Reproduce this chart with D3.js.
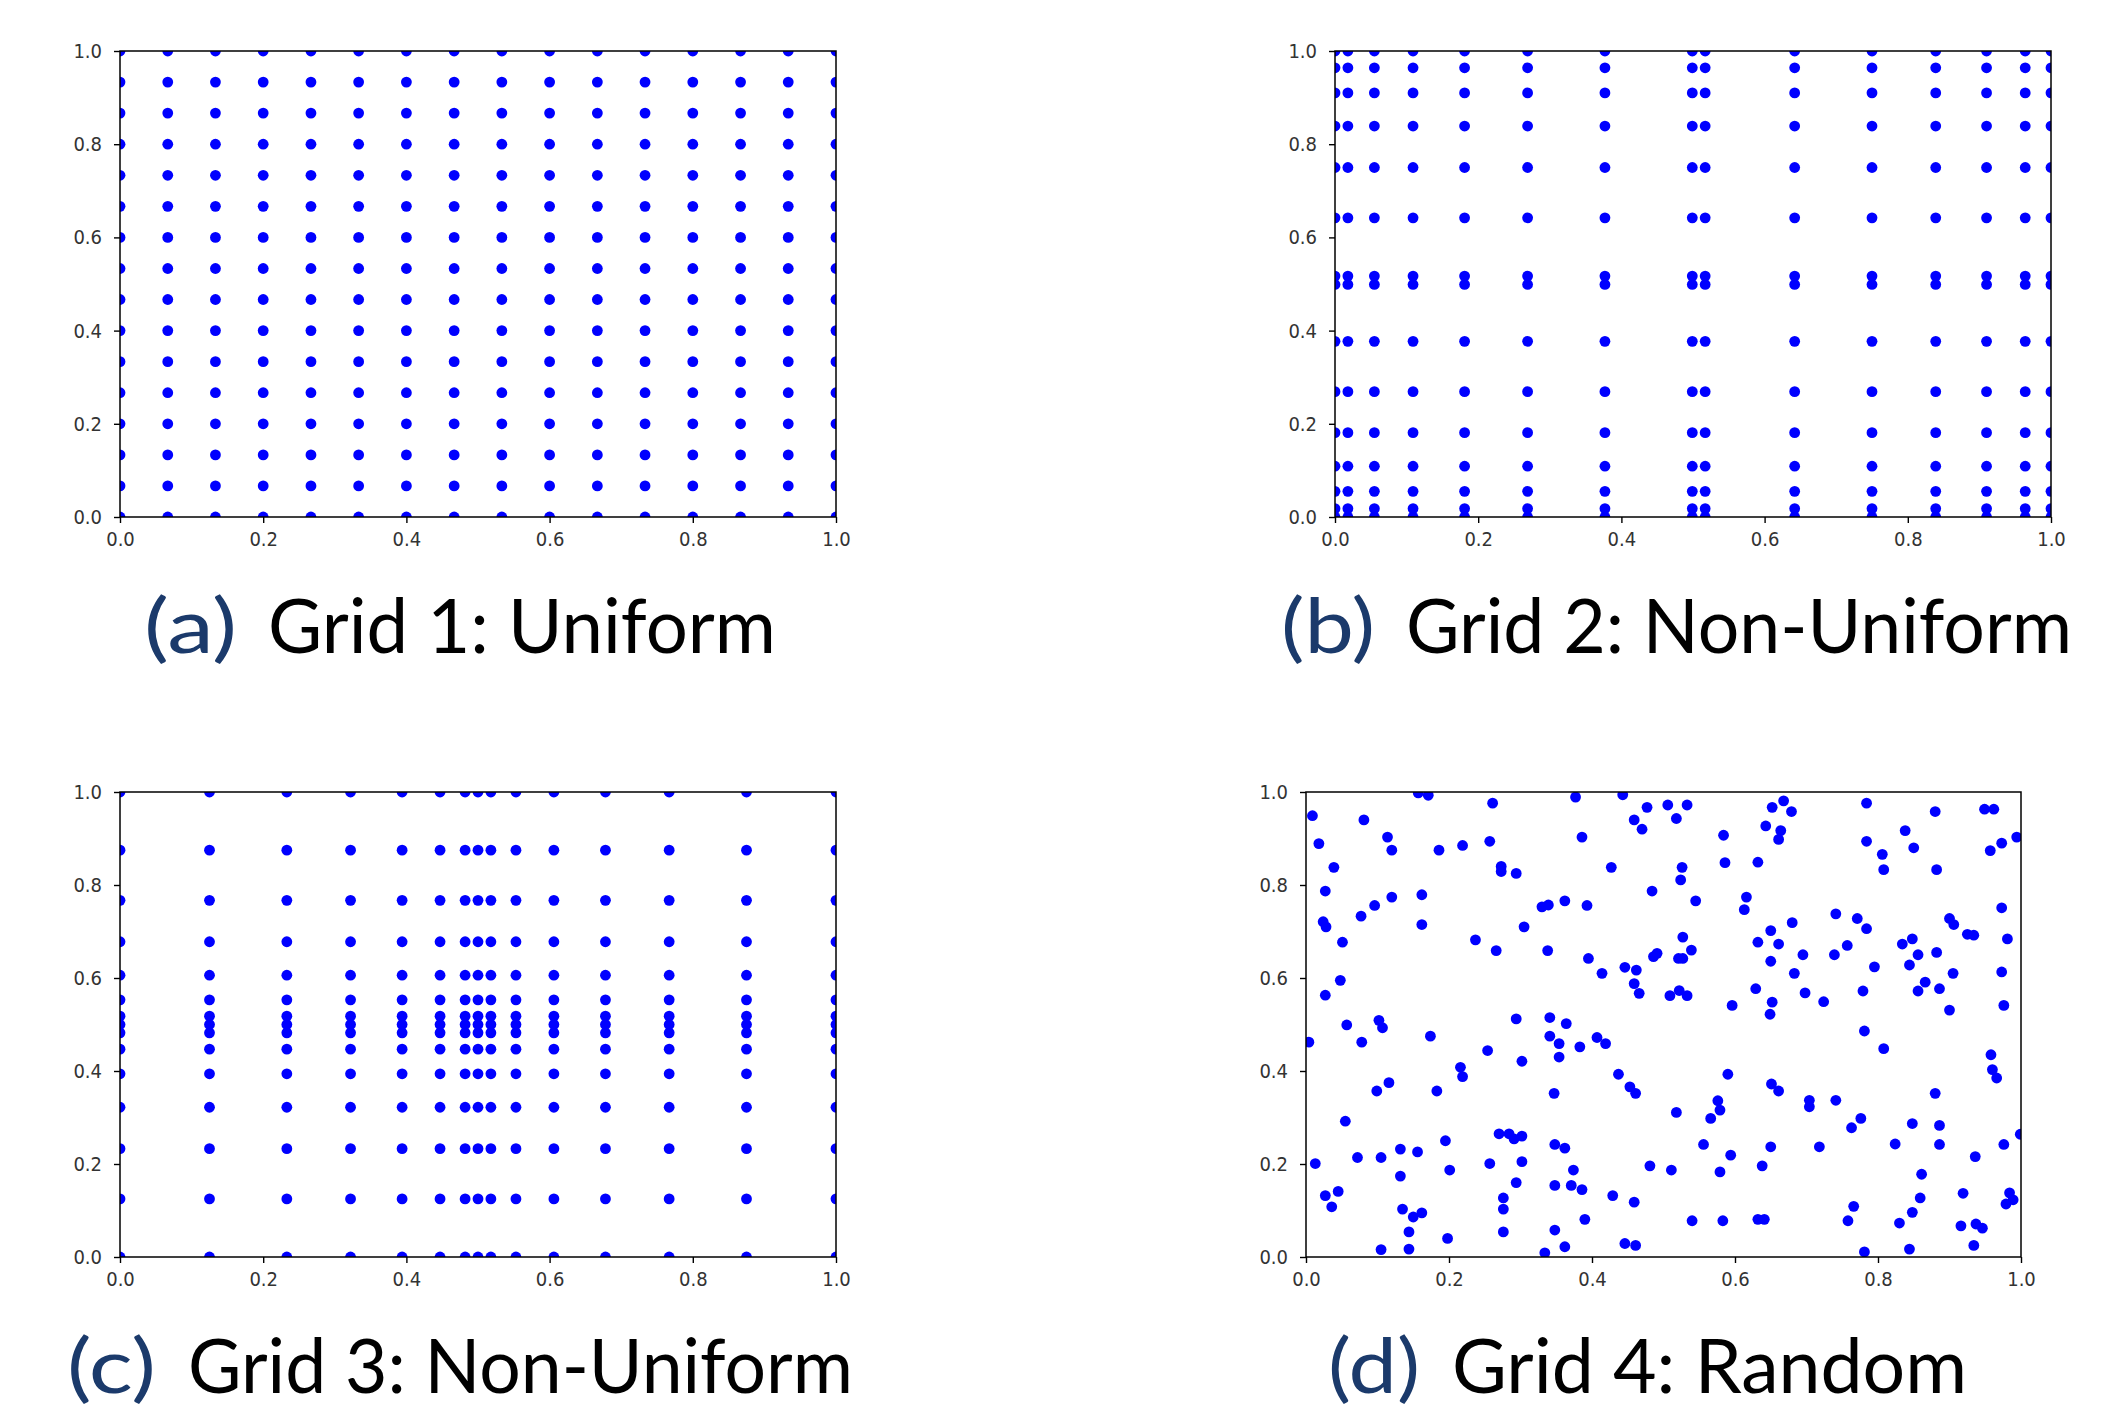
<!DOCTYPE html>
<html>
<head>
<meta charset="utf-8">
<script src="https://cdn.jsdelivr.net/npm/d3@7"></script>
<style>
  html, body { margin: 0; padding: 0; background: #fff; }
  svg { display: block; }
  .tick text { font-family: "DejaVu Sans Condensed", "DejaVu Sans", sans-serif; font-stretch: condensed; font-size: 20px; fill: #333; }
  .tick line { stroke: #000; stroke-width: 1.4px; }
  .caption { font-family: "Lato", "Open Sans", sans-serif; font-weight: 400; font-size: 76px; }
</style>
</head>
<body>
<script>
// Grid 1: evenly spaced nodes (16 per axis)
const grid1Nodes = [0, 0.0667, 0.1333, 0.2, 0.2667, 0.3333, 0.4, 0.4667,
                    0.5333, 0.6, 0.6667, 0.7333, 0.8, 0.8667, 0.9333, 1];

// Grid 2: nodes clustered toward 0, 0.5 and 1 (same nodes on both axes)
const grid2Nodes = [0, 0.018, 0.055, 0.109, 0.181, 0.269, 0.377, 0.499,
                    0.517, 0.642, 0.750, 0.839, 0.910, 0.964, 1];

// Grid 3: nodes clustered toward the centre (same nodes on both axes)
const grid3Nodes = [0, 0.125, 0.233, 0.322, 0.394, 0.447, 0.482, 0.5,
                    0.518, 0.553, 0.606, 0.678, 0.767, 0.875, 1];

// Grid 4: scattered sample points [x, y]
const grid4Points = [
  [0.009,0.949],[0.018,0.889],[0.039,0.838],[0.027,0.787],[0.024,0.721],[0.028,0.710],
  [0.051,0.677],[0.048,0.595],[0.027,0.563],[0.057,0.499],[0.004,0.462],[0.078,0.462],
  [0.081,0.940],[0.077,0.733],[0.096,0.756],[0.114,0.903],[0.120,0.875],[0.120,0.774],
  [0.162,0.779],[0.162,0.715],[0.157,0.998],[0.171,0.993],
  [0.261,0.976],[0.257,0.894],[0.219,0.885],[0.186,0.875],[0.273,0.840],[0.273,0.829],
  [0.294,0.825],[0.305,0.710],[0.266,0.659],[0.237,0.682],[0.330,0.753],[0.339,0.757],
  [0.362,0.766],[0.393,0.756],[0.386,0.903],[0.377,0.989],[0.427,0.838],[0.443,0.994],
  [0.459,0.940],[0.470,0.920],[0.477,0.967],[0.506,0.972],[0.518,0.943],[0.533,0.972],
  [0.526,0.838],[0.524,0.811],[0.484,0.787],[0.545,0.766],[0.584,0.907],[0.586,0.848],
  [0.632,0.849],[0.616,0.774],[0.613,0.747],
  [0.338,0.659],[0.395,0.642],[0.414,0.610],[0.446,0.623],[0.462,0.617],[0.459,0.588],
  [0.466,0.567],[0.486,0.646],[0.491,0.653],[0.509,0.562],[0.522,0.573],[0.533,0.562],
  [0.521,0.642],[0.527,0.642],[0.527,0.688],[0.539,0.660],[0.596,0.541],[0.629,0.577],
  [0.652,0.548],[0.649,0.522],[0.698,0.568],[0.683,0.610],[0.695,0.650],[0.650,0.636],
  [0.661,0.673],[0.632,0.677],[0.650,0.702],[0.680,0.719],[0.724,0.549],[0.739,0.650],
  [0.757,0.670],[0.741,0.738],[0.771,0.728],[0.784,0.706],[0.779,0.572],[0.795,0.624],
  [0.834,0.673],[0.848,0.684],[0.856,0.650],[0.844,0.628],[0.866,0.591],[0.856,0.572],
  [0.882,0.655],[0.886,0.577],[0.905,0.610],[0.900,0.531],[0.900,0.728],[0.906,0.715],
  [0.925,0.694],[0.934,0.692],[0.981,0.684],[0.973,0.751],[0.973,0.613],[0.976,0.541],
  [0.958,0.435],[0.960,0.403],[0.966,0.385],[0.781,0.486],[0.808,0.448],
  [0.668,0.981],[0.652,0.967],[0.679,0.958],[0.643,0.927],[0.664,0.917],[0.661,0.898],
  [0.784,0.976],[0.784,0.894],[0.806,0.866],[0.808,0.833],[0.838,0.917],[0.850,0.880],
  [0.880,0.958],[0.882,0.833],[0.949,0.963],[0.962,0.963],[0.957,0.874],[0.973,0.890],
  [0.994,0.903],
  [0.102,0.509],[0.107,0.493],[0.174,0.475],[0.099,0.357],[0.116,0.375],[0.183,0.357],
  [0.216,0.408],[0.219,0.388],[0.254,0.444],[0.302,0.421],[0.294,0.512],[0.341,0.515],
  [0.341,0.475],[0.354,0.459],[0.364,0.502],[0.354,0.430],[0.347,0.352],[0.383,0.452],
  [0.407,0.472],[0.419,0.459],[0.437,0.393],[0.453,0.366],[0.461,0.352],[0.055,0.292],
  [0.013,0.201],
  [0.590,0.393],[0.651,0.372],[0.661,0.357],[0.576,0.336],[0.579,0.316],[0.566,0.298],
  [0.704,0.337],[0.704,0.323],[0.741,0.337],[0.776,0.298],[0.763,0.278],[0.718,0.237],
  [0.650,0.237],[0.594,0.219],[0.556,0.242],[0.638,0.196],[0.579,0.183],[0.511,0.187],
  [0.481,0.196],[0.518,0.311],[0.880,0.352],[0.886,0.283],[0.848,0.287],[0.824,0.243],
  [0.886,0.242],[0.976,0.242],[0.999,0.264],[0.936,0.216],[0.861,0.178],[0.859,0.127],
  [0.848,0.096],[0.830,0.073],[0.844,0.017],[0.919,0.137],[0.916,0.067],[0.937,0.071],
  [0.946,0.062],[0.934,0.025],[0.979,0.114],[0.984,0.138],[0.989,0.123],[0.781,0.011],
  [0.766,0.109],[0.758,0.078],[0.632,0.081],[0.641,0.081],[0.583,0.078],[0.540,0.078],
  [0.459,0.118],[0.446,0.029],[0.461,0.025],[0.429,0.132],[0.390,0.081],[0.386,0.145],
  [0.374,0.187],[0.371,0.154],[0.348,0.154],[0.348,0.058],[0.362,0.022],[0.334,0.009],
  [0.348,0.242],[0.362,0.234],[0.302,0.260],[0.302,0.205],[0.294,0.160],[0.291,0.254],
  [0.270,0.265],[0.284,0.265],[0.276,0.127],[0.276,0.103],[0.276,0.054],[0.257,0.201],
  [0.201,0.187],[0.195,0.250],[0.198,0.040],[0.156,0.226],[0.162,0.095],[0.150,0.086],
  [0.144,0.054],[0.144,0.017],[0.135,0.103],[0.132,0.232],[0.132,0.174],[0.105,0.214],
  [0.105,0.016],[0.045,0.141],[0.027,0.132],[0.036,0.108],[0.072,0.214]
];

const tickValues = [0, 0.2, 0.4, 0.6, 0.8, 1.0];

// Panel captions: tag and title
const captionTags = ["(a)", "(b)", "(c)", "(d)"];
const captionTitles = ["Grid 1: Uniform", "Grid 2: Non-Uniform", "Grid 3: Non-Uniform", "Grid 4: Random"];

// Tensor-product grid from a list of 1-D nodes
function tensorGrid(nodes) {
  const pts = [];
  nodes.forEach(x => nodes.forEach(y => pts.push([x, y])));
  return pts;
}

const W = 2110, H = 1412;
const svg = d3.select("body").append("svg").attr("width", W).attr("height", H);

const panels = [
  { frame: { x0: 120, x1: 836, y0: 51, y1: 517 }, points: tensorGrid(grid1Nodes),
    tag: { x0: 144, x1: 237 }, title: { x0: 268, x1: 776 }, baseline: 653 },
  { frame: { x0: 1335, x1: 2051, y0: 51, y1: 517 }, points: tensorGrid(grid2Nodes),
    tag: { x0: 1281, x1: 1375 }, title: { x0: 1406, x1: 2072 }, baseline: 653 },
  { frame: { x0: 120, x1: 836, y0: 792, y1: 1257 }, points: tensorGrid(grid3Nodes),
    tag: { x0: 67, x1: 156 }, title: { x0: 188, x1: 853 }, baseline: 1393 },
  { frame: { x0: 1306, x1: 2021, y0: 792, y1: 1257 }, points: grid4Points,
    tag: { x0: 1328, x1: 1420 }, title: { x0: 1452, x1: 1967 }, baseline: 1393 }
];

panels.forEach((p, i) => {
  const f = p.frame;
  const x = d3.scaleLinear().domain([0, 1]).range([f.x0, f.x1]);
  const y = d3.scaleLinear().domain([0, 1]).range([f.y1, f.y0]);
  const g = svg.append("g");

  const clipId = "clip" + i;
  svg.append("clipPath").attr("id", clipId)
    .append("rect").attr("x", f.x0).attr("y", f.y0)
    .attr("width", f.x1 - f.x0).attr("height", f.y1 - f.y0);

  g.append("g").attr("clip-path", `url(#${clipId})`)
    .selectAll("circle").data(p.points).join("circle")
    .attr("cx", d => x(d[0])).attr("cy", d => y(d[1]))
    .attr("r", 5.4).attr("fill", "#0000ff");

  const xAxis = d3.axisBottom(x).tickValues(tickValues).tickFormat(d3.format(".1f"))
    .tickSize(6).tickPadding(9);
  const yAxis = d3.axisLeft(y).tickValues(tickValues).tickFormat(d3.format(".1f"))
    .tickSize(6).tickPadding(12);

  const gx = g.append("g").attr("transform", `translate(0,${f.y1})`).call(xAxis);
  const gy = g.append("g").attr("transform", `translate(${f.x0},0)`).call(yAxis);
  [gx, gy].forEach(a => { a.select(".domain").remove(); a.selectAll("text").attr("font-family", null).attr("font-size", null); });

  g.append("rect").attr("x", f.x0).attr("y", f.y0)
    .attr("width", f.x1 - f.x0).attr("height", f.y1 - f.y0)
    .attr("fill", "none").attr("stroke", "#000").attr("stroke-width", 1.5);

  g.append("text").attr("class", "caption")
    .attr("x", p.tag.x0).attr("y", p.baseline)
    .attr("textLength", p.tag.x1 - p.tag.x0).attr("lengthAdjust", "spacingAndGlyphs")
    .attr("fill", "#1b3a6b").text(captionTags[i]);
  g.append("text").attr("class", "caption")
    .attr("x", p.title.x0).attr("y", p.baseline)
    .attr("textLength", p.title.x1 - p.title.x0).attr("lengthAdjust", "spacingAndGlyphs")
    .attr("fill", "#000").text(captionTitles[i]);
});
</script>
</body>
</html>
